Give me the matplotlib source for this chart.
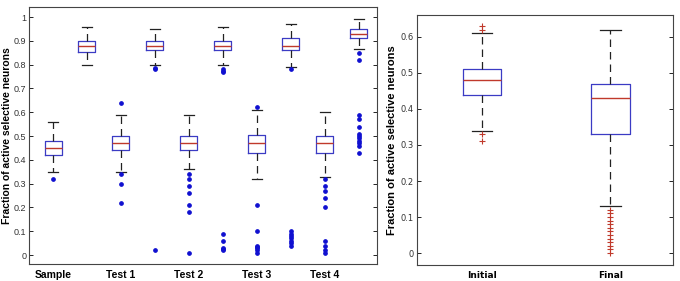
import matplotlib

matplotlib.use("Agg")
import matplotlib.pyplot as plt

# left panel: ten boxes, sample/test pairs
left_pos = [1, 2, 3, 4, 5, 6, 7, 8, 9, 10]
left_q1 = [0.42, 0.855, 0.44, 0.86, 0.44, 0.86, 0.43, 0.86, 0.43, 0.91]
left_med = [0.45, 0.88, 0.47, 0.88, 0.47, 0.88, 0.47, 0.88, 0.47, 0.93]
left_q3 = [0.48, 0.90, 0.50, 0.90, 0.50, 0.90, 0.505, 0.91, 0.50, 0.95]
left_lo = [0.35, 0.80, 0.35, 0.80, 0.36, 0.80, 0.32, 0.79, 0.33, 0.865]
left_hi = [0.56, 0.96, 0.59, 0.95, 0.59, 0.96, 0.61, 0.97, 0.60, 0.99]
left_fliers = [
    [0.32],
    [],
    [0.64, 0.34, 0.30, 0.22],
    [0.785, 0.78, 0.02],
    [0.34, 0.32, 0.29, 0.26, 0.21, 0.18, 0.01],
    [0.78, 0.775, 0.77, 0.09, 0.06, 0.03, 0.025, 0.02],
    [0.62, 0.21, 0.10, 0.04, 0.035, 0.03, 0.02, 0.01],
    [0.78, 0.10, 0.09, 0.08, 0.07, 0.06, 0.05, 0.04],
    [0.32, 0.29, 0.27, 0.24, 0.20, 0.06, 0.04, 0.02, 0.01],
    [0.85, 0.82, 0.59, 0.57, 0.54, 0.51, 0.50, 0.49, 0.48, 0.47, 0.46, 0.43],
]
left_ticks = [1, 3, 5, 7, 9]
left_labels = ["Sample", "Test 1", "Test 2", "Test 3", "Test 4"]

# right panel: initial vs final
right_labels = ["Initial", "Final"]
right_q1 = [0.44, 0.33]
right_med = [0.48, 0.43]
right_q3 = [0.51, 0.47]
right_lo = [0.34, 0.13]
right_hi = [0.61, 0.62]
right_fliers = [
    [0.63, 0.62, 0.33, 0.31],
    [0.12, 0.11, 0.10, 0.09, 0.08, 0.07, 0.06, 0.05, 0.04, 0.03, 0.02, 0.01, 0.0],
]

BLUE = "#3b3bc4"
RED = "#c0392b"
YLABEL = "Fraction of active selective neurons"
NARROW = ["Liberation Sans Narrow", "DejaVu Sans"]


def make_stats(q1, med, q3, lo, hi, fliers):
    return [dict(q1=a, med=b, q3=c, whislo=d, whishi=e, fliers=f)
            for a, b, c, d, e, f in zip(q1, med, q3, lo, hi, fliers)]


def draw(ax, stats, positions, width, capw, flierprops):
    ax.bxp(stats, positions=positions, widths=width, capwidths=capw,
           showfliers=True, manage_ticks=False,
           boxprops=dict(color=BLUE, lw=0.9),
           medianprops=dict(color=RED, lw=1.0),
           whiskerprops=dict(color="#222222", lw=0.9, ls=(0, (6, 4))),
           capprops=dict(color="#222222", lw=0.9),
           flierprops=flierprops)
    ax.tick_params(direction="in", right=True, top=False, length=3, width=0.6, pad=2)
    for s in ax.spines.values():
        s.set_color("#444444")
        s.set_linewidth(0.8)


fig = plt.figure(figsize=(6.8, 2.81), dpi=100)
plt.rcParams["font.family"] = ["Liberation Sans", "DejaVu Sans"]

ax1 = fig.add_axes([0.043, 0.060, 0.511, 0.915])
draw(ax1, make_stats(left_q1, left_med, left_q3, left_lo, left_hi, left_fliers),
     left_pos, 0.5, 0.3,
     dict(marker="o", markersize=2.4, markerfacecolor="#1010d0",
          markeredgecolor="#1010d0", linestyle="none"))
ax1.set_xlim(0.3, 10.53)
ax1.set_ylim(-0.038, 1.042)
ax1.set_yticks([0, 0.1, 0.2, 0.3, 0.4, 0.5, 0.6, 0.7, 0.8, 0.9, 1.0])
ax1.set_yticklabels(["0", "0.1", "0.2", "0.3", "0.4", "0.5", "0.6", "0.7", "0.8", "0.9", "1"],
                    fontsize=6.5, color="#333333")
ax1.set_xticks(left_ticks)
ax1.set_xticklabels(left_labels, fontsize=7.5, fontweight="bold")
ax1.tick_params(axis="x", length=0, pad=4)
ax1.set_ylabel(YLABEL, fontsize=7.5, fontweight="bold", labelpad=1)

ax2 = fig.add_axes([0.613, 0.057, 0.377, 0.890])
draw(ax2, make_stats(right_q1, right_med, right_q3, right_lo, right_hi, right_fliers),
     [1, 2], 0.3, 0.16,
     dict(marker="+", markersize=4, markeredgecolor=RED, markeredgewidth=0.8,
          linestyle="none"))
ax2.set_xlim(0.49, 2.49)
ax2.set_ylim(-0.033, 0.661)
ax2.set_yticks([0, 0.1, 0.2, 0.3, 0.4, 0.5, 0.6])
ax2.set_yticklabels(["0", "0.1", "0.2", "0.3", "0.4", "0.5", "0.6"],
                    fontsize=6, color="#333333", family=NARROW)
ax2.set_xticks([1, 2])
ax2.set_xticklabels(right_labels, fontsize=6.5, fontweight="bold", family=NARROW)
ax2.tick_params(axis="x", length=0, pad=4)
ax2.set_ylabel(YLABEL, fontsize=8, fontweight="bold", labelpad=3)

fig.savefig("out.png", dpi=100)
plt.close(fig)
